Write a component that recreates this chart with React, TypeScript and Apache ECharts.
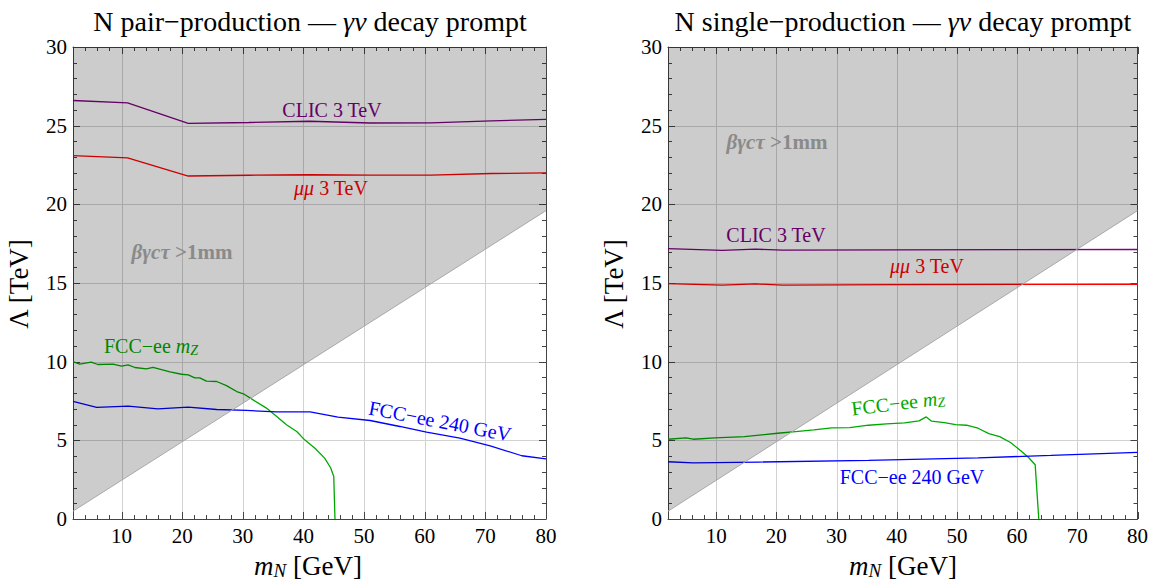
import React, { useEffect, useRef } from "react";
import * as echarts from "echarts";

const FONT = "'Liberation Serif', 'DejaVu Serif', serif";

// axes
const X_MIN = 2;
const X_MAX = 80;
const Y_MIN = 0;
const Y_MAX = 30;
const xTickLabels = [10, 20, 30, 40, 50, 60, 70, 80];
const yTickLabels = [0, 5, 10, 15, 20, 25, 30];
const xMinorStep = 2;
const yMinorStep = 1;

// prompt-decay boundary (shaded region above it)
const shadeX = [2, 80];
const shadeY = [0.5, 19.6];

// ---- left panel: pair production ----
const pairClicX = [2, 11, 21, 31, 41, 51, 61, 71, 80];
const pairClicY = [26.6, 26.45, 25.15, 25.2, 25.28, 25.17, 25.18, 25.3, 25.4];
const pairMuMuX = [2, 11, 21, 31, 41, 51, 61, 71, 80];
const pairMuMuY = [23.1, 22.95, 21.8, 21.85, 21.88, 21.86, 21.86, 21.96, 22.0];
const pairFccZX = [2, 3.1, 5, 6.1, 8.6, 10, 11.1, 12.2, 14.1, 15.2, 18, 19.9, 21, 22.1, 22.9, 24, 25.7, 27.3, 29, 30.1, 31.7, 33.9, 35.6, 37.2, 38.9, 40.2, 41.9, 43.5, 44.5, 45, 45.2];
const pairFccZY = [10, 9.84, 9.97, 9.82, 9.84, 9.71, 9.8, 9.63, 9.54, 9.63, 9.35, 9.2, 9.16, 8.97, 8.97, 8.76, 8.74, 8.48, 8.1, 7.96, 7.57, 7.05, 6.51, 5.99, 5.56, 5.03, 4.5, 3.87, 3.24, 2.7, 0];
const pairFcc240X = [2, 5.9, 11.1, 16, 21, 25.7, 30.6, 35.6, 41.1, 45.7, 51, 55.9, 60.3, 65.8, 70.8, 76, 80];
const pairFcc240Y = [7.47, 7.09, 7.17, 7.0, 7.11, 6.96, 6.9, 6.81, 6.81, 6.48, 6.26, 5.88, 5.52, 5.14, 4.65, 4.02, 3.82];

// ---- right panel: single production ----
const singleClicX = [2, 11, 16.5, 21, 40, 60, 80];
const singleClicY = [17.18, 17.07, 17.15, 17.09, 17.11, 17.12, 17.13];
const singleMuMuX = [2, 11, 16.5, 21, 40, 60, 80];
const singleMuMuY = [14.96, 14.87, 14.94, 14.87, 14.9, 14.91, 14.92];
const singleFccZX = [2, 5, 6.2, 9.8, 14.7, 20.2, 23.2, 26.2, 29.2, 32.2, 35.3, 38.3, 41.3, 43.7, 44.9, 45.8, 47.9, 49.8, 51.6, 53.5, 55.3, 57.1, 58.9, 60.7, 61.9, 63, 63.6];
const singleFccZY = [5.07, 5.16, 5.07, 5.16, 5.24, 5.45, 5.56, 5.67, 5.79, 5.81, 5.96, 6.05, 6.11, 6.24, 6.49, 6.22, 6.13, 6.0, 5.96, 5.77, 5.43, 5.24, 4.86, 4.31, 3.91, 3.45, 0];
const singleFcc240X = [2, 6.2, 17.1, 35.3, 53.5, 65.6, 80];
const singleFcc240Y = [3.64, 3.57, 3.62, 3.72, 3.89, 4.04, 4.23];

const C_CLIC = "#800080";
const C_MUMU = "#ff0000";
const C_FCCZ = "#00a800";
const C_FCC240 = "#0000ff";

const zip = (xs: number[], ys: number[]) => xs.map((x, i) => [x, ys[i]]);

function buildTickItems() {
  const items: number[][] = [];
  xTickLabels.forEach((v) => items.push([0, v]));
  for (let v = X_MIN + xMinorStep; v < X_MAX; v += xMinorStep) {
    if (!xTickLabels.includes(v)) items.push([1, v]);
  }
  yTickLabels.forEach((v) => items.push([2, v]));
  for (let v = Y_MIN + yMinorStep; v < Y_MAX; v += yMinorStep) {
    if (!yTickLabels.includes(v)) items.push([3, v]);
  }
  return items;
}

const GRID_COLOR = "#d2d2d2";
const TICK_COLOR = "#444";

function renderTicks(params: any, api: any) {
  const cs = params.coordSys;
  const kind = api.value(0);
  const v = api.value(1);
  const left = cs.x;
  const right = cs.x + cs.width;
  const top = cs.y;
  const bottom = cs.y + cs.height;
  const children: any[] = [];
  const ln = (x1: number, y1: number, x2: number, y2: number, stroke: string) =>
    children.push({ type: "line", shape: { x1, y1, x2, y2 }, style: { stroke, lineWidth: 1 } });
  if (kind === 0 || kind === 1) {
    const x = Math.round(api.coord([v, Y_MIN])[0]) + 0.5;
    const len = kind === 0 ? 7 : 4;
    if (kind === 0 && v < X_MAX) ln(x, top, x, bottom, GRID_COLOR);
    ln(x, bottom, x, bottom - len, TICK_COLOR);
    ln(x, top, x, top + len, TICK_COLOR);
  } else {
    const y = Math.round(api.coord([X_MIN, v])[1]) + 0.5;
    const len = kind === 2 ? 7 : 4;
    if (kind === 2 && v > Y_MIN && v < Y_MAX) ln(left, y, right, y, GRID_COLOR);
    ln(left, y, left + len, y, TICK_COLOR);
    ln(right, y, right - len, y, TICK_COLOR);
  }
  return { type: "group", children };
}

function makeAxes(gridIndex: number) {
  const xBase = {
    gridIndex,
    type: "value",
    min: X_MIN,
    max: X_MAX,
    interval: xMinorStep,
    splitLine: { show: false },
    axisTick: { show: false },
    axisLine: { show: true, onZero: false, lineStyle: { color: TICK_COLOR, width: 1 } },
  };
  const yBase = {
    gridIndex,
    type: "value",
    min: Y_MIN,
    max: Y_MAX,
    interval: 5,
    splitLine: { show: false },
    axisTick: { show: false },
    axisLine: { show: true, onZero: false, lineStyle: { color: TICK_COLOR, width: 1 } },
  };
  return {
    x: [
      {
        ...xBase,
        position: "bottom",
        axisLabel: {
          show: true,
          margin: 6,
          fontSize: 21,
          fontFamily: FONT,
          color: "#000",
          formatter: (val: number) => (xTickLabels.includes(val) ? String(val) : ""),
        },
      },
      { ...xBase, position: "top", axisLabel: { show: false } },
    ],
    y: [
      {
        ...yBase,
        position: "left",
        axisLabel: {
          show: true,
          margin: 6,
          fontSize: 21,
          fontFamily: FONT,
          color: "#000",
          formatter: (val: number) => (yTickLabels.includes(val) ? String(val) : ""),
        },
      },
      { ...yBase, position: "right", axisLabel: { show: false } },
    ],
  };
}

function lineSeries(name: string, xs: number[], ys: number[], color: string, axisIdx: number) {
  return {
    name,
    type: "line",
    xAxisIndex: axisIdx,
    yAxisIndex: axisIdx,
    data: zip(xs, ys),
    symbol: "none",
    lineStyle: { color, width: 1.3 },
    z: 3,
    silent: true,
  };
}

function txt(x: number, y: number, text: string, o: any) {
  return {
    type: "text",
    x,
    y,
    rotation: o.rot || 0,
    z: o.z ?? 5,
    silent: true,
    style: {
      text,
      fill: o.color,
      fontSize: o.size,
      fontFamily: FONT,
      fontWeight: o.weight || "normal",
      fontStyle: o.style || "normal",
      align: "center",
      verticalAlign: "middle",
      rich: o.rich,
    },
  };
}

const richFor = (color: string, size: number) => ({
  n: { fill: color, color, fontSize: size, fontFamily: FONT },
  i: { fill: color, color, fontSize: size, fontFamily: FONT, fontStyle: "italic" },
  sub: { fill: color, color, fontSize: Math.round(size * 0.72), fontFamily: FONT, fontStyle: "italic", padding: [9, 0, 0, 0] },
});

const betaRich = (size: number) => ({
  b: { fill: "#8a8a8a", color: "#8a8a8a", fontSize: size, fontFamily: FONT, fontWeight: "bold", fontStyle: "italic" },
  c: { fill: "#8a8a8a", color: "#8a8a8a", fontSize: size, fontFamily: FONT, fontWeight: "bold" },
});

export default function App() {
  const ref = useRef<HTMLDivElement>(null);
  useEffect(() => {
    if (!ref.current) return;
    const chart = echarts.init(ref.current, undefined, { renderer: "svg" });
    const a0 = makeAxes(0);
    const a1 = makeAxes(1);
    const tickItems = buildTickItems();

    const shade = (idx: number) => ({
      type: "line",
      xAxisIndex: idx,
      yAxisIndex: idx,
      data: zip(shadeX, shadeY),
      symbol: "none",
      lineStyle: { color: "#a8a8a8", width: 1 },
      areaStyle: { origin: "end", color: "rgba(0,0,0,0.2)", opacity: 1 },
      z: 10,
      silent: true,
    });
    const ticks = (idx: number) => ({
      type: "custom",
      xAxisIndex: idx,
      yAxisIndex: idx,
      data: tickItems,
      renderItem: renderTicks,
      clip: false,
      z: 1,
      silent: true,
    });

    const LBL = 20;
    const TS = 28;
    const graphics = [
      // titles
      txt(310, 21, "{n|N pair\u2212production \u2014 }{i|\u03b3\u03bd}{n| decay prompt}", { color: "#000", size: TS, rich: richFor("#000", TS), z: 20 }),
      txt(903, 21, "{n|N single\u2212production \u2014 }{i|\u03b3\u03bd}{n| decay prompt}", { color: "#000", size: TS, rich: richFor("#000", TS), z: 20 }),
      // axis names
      txt(308, 566, "{i|m}{sub|N}{n| [GeV]}", { color: "#000", size: 27, rich: richFor("#000", 27), z: 20 }),
      txt(903, 566, "{i|m}{sub|N}{n| [GeV]}", { color: "#000", size: 27, rich: richFor("#000", 27), z: 20 }),
      txt(19, 284, "\u039b [TeV]", { color: "#000", size: 27, rot: Math.PI / 2, z: 20 }),
      txt(614, 284, "\u039b [TeV]", { color: "#000", size: 27, rot: Math.PI / 2, z: 20 }),
      // left annotations
      txt(332, 110, "CLIC 3 TeV", { color: C_CLIC, size: LBL }),
      txt(331, 188, "{i|\u03bc\u03bc}{n| 3 TeV}", { color: C_MUMU, size: LBL, rich: richFor(C_MUMU, LBL) }),
      txt(182, 252, "{b|\u03b2\u03b3c\u03c4 }{c|>1mm}", { color: "#8a8a8a", size: 21, weight: "bold", z: 20, rich: betaRich(21) }),
      txt(151, 346, "{n|FCC\u2212ee }{i|m}{sub|Z}", { color: C_FCCZ, size: LBL, rich: richFor(C_FCCZ, LBL) }),
      txt(440, 421, "FCC\u2212ee 240 GeV", { color: C_FCC240, size: LBL, rot: -0.19 }),
      // right annotations
      txt(777, 142, "{b|\u03b2\u03b3c\u03c4 }{c|>1mm}", { color: "#8a8a8a", size: 21, weight: "bold", z: 20, rich: betaRich(21) }),
      txt(776, 235, "CLIC 3 TeV", { color: C_CLIC, size: LBL }),
      txt(927, 266, "{i|\u03bc\u03bc}{n| 3 TeV}", { color: C_MUMU, size: LBL, rich: richFor(C_MUMU, LBL) }),
      txt(898, 403, "{n|FCC\u2212ee }{i|m}{sub|Z}", { color: C_FCCZ, size: LBL, rot: 0.12, rich: richFor(C_FCCZ, LBL) }),
      txt(912, 477, "FCC\u2212ee 240 GeV", { color: C_FCC240, size: LBL }),
    ];

    chart.setOption({
      animation: false,
      backgroundColor: "#fff",
      textStyle: { fontFamily: FONT },
      grid: [
        { left: 73, top: 47, width: 473, height: 472, containLabel: false },
        { left: 668, top: 47, width: 472, height: 472, containLabel: false },
      ],
      xAxis: [...a0.x, ...a1.x],
      yAxis: [...a0.y, ...a1.y],
      series: [
        ticks(0),
        ticks(2),
        lineSeries("CLIC 3 TeV", pairClicX, pairClicY, C_CLIC, 0),
        lineSeries("\u03bc\u03bc 3 TeV", pairMuMuX, pairMuMuY, C_MUMU, 0),
        lineSeries("FCC-ee mZ", pairFccZX, pairFccZY, C_FCCZ, 0),
        lineSeries("FCC-ee 240 GeV", pairFcc240X, pairFcc240Y, C_FCC240, 0),
        lineSeries("CLIC 3 TeV", singleClicX, singleClicY, C_CLIC, 2),
        lineSeries("\u03bc\u03bc 3 TeV", singleMuMuX, singleMuMuY, C_MUMU, 2),
        lineSeries("FCC-ee mZ", singleFccZX, singleFccZY, C_FCCZ, 2),
        lineSeries("FCC-ee 240 GeV", singleFcc240X, singleFcc240Y, C_FCC240, 2),
        shade(0),
        shade(2),
      ],
      graphic: { elements: graphics },
    });
    return () => chart.dispose();
  }, []);
  return (
    <div
      ref={ref}
      style={{ position: "absolute", left: 0, top: 0, width: 1151, height: 580 }}
    />
  );
}
